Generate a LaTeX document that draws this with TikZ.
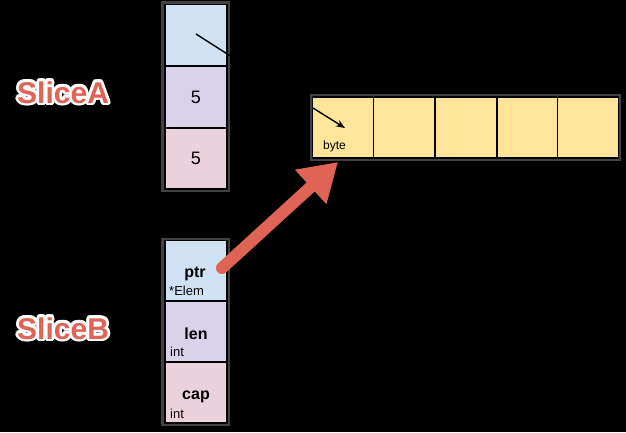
\documentclass[tikz,border=0pt]{standalone}
\usepackage{fontspec}
\setmainfont{Liberation Sans}
\usetikzlibrary{arrows.meta}
\definecolor{cblue}{RGB}{207,226,243}
\definecolor{cpurple}{RGB}{217,210,233}
\definecolor{cpink}{RGB}{234,209,220}
\definecolor{cyellow}{RGB}{255,229,153}
\definecolor{cred}{RGB}{224,100,86}
\definecolor{cframe}{RGB}{66,66,66}
\tikzset{
  cell/.style={draw=black,line width=1.6pt,minimum width=62pt,minimum height=61pt,inner sep=0pt,outer sep=0pt},
  frame/.style={fill=cframe,draw=none},
  big/.style={font=\fontsize{16}{16}\selectfont\bfseries,inner sep=0pt,anchor=base},
  num/.style={font=\fontsize{18}{18}\selectfont,inner sep=0pt,anchor=base},
  small/.style={font=\fontsize{13}{13}\selectfont,inner sep=0pt,anchor=base west},
  tiny/.style={font=\fontsize{12}{12}\selectfont,inner sep=0pt,anchor=base west},
  lbl/.style={font=\fontsize{30}{30}\selectfont\bfseries,inner sep=0pt,anchor=base west},
  ptrline/.style={line width=1.4pt,draw=black},
}
\begin{document}
\begin{tikzpicture}[x=1pt,y=-1pt]
\fill[black] (0,0) rectangle (626,432);
\useasboundingbox (0,0) rectangle (626,432);
% frames
\fill[frame] (161,1) rectangle (230,192);
\fill[frame] (161,238) rectangle (230,426);
\fill[frame] (310,94) rectangle (621,161);
% SliceA
\node[cell,fill=cblue] (a1) at (196,35) {};
\node[cell,fill=cpurple] (a2) at (196,97) {};
\node[cell,fill=cpink] (a3) at (196,158.5) {};
\node[num] (a2t) at (196,103) {5};
\node[num] (a3t) at (196,164) {5};
\coordinate (pa0) at (196,34);
\coordinate (pa1) at (232,57);
\draw[ptrline] (pa0) -- (pa1);
% SliceB
\node[cell,fill=cblue] (b1) at (196,271) {};
\node[cell,fill=cpurple] (b2) at (196,331.5) {};
\node[cell,fill=cpink] (b3) at (196,392.5) {};
\node[big] (b1t) at (195,277) {ptr};
\node[small] (b1s) at (169,295) {*Elem};
\node[big] (b2t) at (196,339) {len};
\node[small] (b2s) at (170,356) {int};
\node[big] (b3t) at (196,399) {cap};
\node[small] (b3s) at (170,418) {int};
% bytes
\foreach \i/\x in {1/343,2/404,3/466,4/527.5,5/588}{
  \node[cell,fill=cyellow,minimum width=61pt] (c\i) at (\x,127.5) {};
}
\node[tiny] (bt) at (323,149) {byte};
\coordinate (pb0) at (313,108);
\coordinate (pb1) at (345,128);
\draw[ptrline,-{Stealth[length=9pt,width=7pt]}] (pb0) -- (pb1);
% labels with white outline
\foreach \a [count=\i] in {0,30,...,330}{
  \node[lbl,text=white] (wa\i) at ([shift={(\a:2.8pt)}]17,103) {SliceA};
  \node[lbl,text=white] (wb\i) at ([shift={(\a:2.8pt)}]17,339) {SliceB};
}
\node[lbl,text=cred] (la) at (17,103) {SliceA};
\node[lbl,text=cred] (lb) at (17,339) {SliceB};
% big arrow
\coordinate (r0) at (222,268);
\coordinate (r1) at (338,162);
\draw[cred,line width=12pt,line cap=round,-{Triangle[length=37pt,width=44pt]}] (r0) -- (r1);
\end{tikzpicture}
\end{document}
